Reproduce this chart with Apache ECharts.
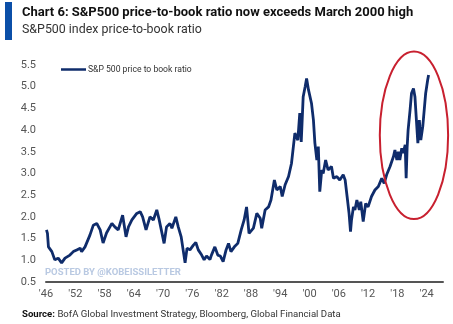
<!DOCTYPE html>
<html>
<head>
<meta charset="utf-8">
<script src="https://cdn.jsdelivr.net/npm/echarts@6/dist/echarts.min.js"></script>
<style>html,body{margin:0;padding:0;background:#fff;}#c{width:453px;height:324px;}</style>
</head>
<body>
<div id="c"></div>
<script>
const FONT = "Roboto, 'Liberation Sans', sans-serif";
const startYear = 1946;
const tickYears = [1946, 1952, 1958, 1964, 1970, 1976, 1982, 1988, 1994, 2000, 2006, 2012, 2018, 2024];
const years = [
  1946.1, 1946.3, 1946.5, 1947.2, 1947.8, 1948.5, 1949.2, 1949.9, 1950.9, 1951.6,
  1952.3, 1953.0, 1953.3, 1954.0, 1955.0, 1955.7, 1956.4, 1957.1, 1957.7, 1958.4,
  1959.5, 1960.1, 1960.8, 1961.7, 1962.4, 1962.9, 1963.6, 1964.6, 1965.3, 1965.8,
  1966.5, 1967.3, 1968.0, 1968.7, 1969.2, 1969.7, 1970.2, 1970.7, 1971.4, 1971.8,
  1972.6, 1973.1, 1973.7, 1974.1, 1974.5, 1974.9, 1975.5, 1976.2, 1976.7, 1977.2,
  1977.9, 1978.4, 1978.9, 1979.6, 1979.9, 1980.6, 1981.2, 1981.7, 1982.3, 1982.9,
  1983.4, 1983.9, 1984.6, 1985.3, 1986.0, 1986.6, 1987.1, 1987.6, 1988.5, 1989.2,
  1989.9, 1990.2, 1990.9, 1991.6, 1992.1, 1992.8, 1993.3, 1994.0, 1994.4, 1995.0,
  1995.7, 1996.3, 1997.0, 1997.6, 1998.0, 1998.3, 1998.7, 1999.1, 1999.4, 1999.8,
  2000.1, 2000.4, 2000.8, 2001.1, 2001.5, 2001.8, 2002.1, 2002.5, 2002.8, 2003.3,
  2003.8, 2004.5, 2004.9, 2005.6, 2006.2, 2006.9, 2007.3, 2007.7, 2008.1, 2008.4,
  2008.6, 2009.0, 2009.3, 2009.7, 2010.2, 2010.5, 2011.0, 2011.5, 2012.0, 2012.7,
  2013.4, 2014.1, 2014.8, 2015.3, 2015.8, 2016.5, 2017.2, 2017.5, 2017.9, 2018.2,
  2018.5, 2018.9, 2019.2, 2019.6, 2019.8, 2020.0, 2020.2, 2020.6, 2020.9, 2021.3,
  2021.6, 2021.9, 2022.2, 2022.5, 2022.8, 2023.2, 2023.5, 2023.8, 2024.2, 2024.4
];
const ptb = [
  1.70, 1.62, 1.31, 1.20, 1.01, 1.05, 0.94, 1.05, 1.12, 1.20,
  1.24, 1.28, 1.20, 1.31, 1.58, 1.81, 1.85, 1.70, 1.40, 1.63,
  1.85, 1.77, 1.70, 2.04, 1.54, 1.77, 1.93, 2.08, 2.12, 2.00,
  1.70, 2.00, 1.93, 2.16, 1.93, 1.66, 1.39, 1.77, 1.85, 1.74,
  2.00, 1.77, 1.54, 1.24, 0.94, 1.28, 1.24, 1.35, 1.41, 1.24,
  1.12, 1.01, 1.10, 1.02, 1.12, 1.31, 1.12, 1.10, 0.97, 1.24,
  1.39, 1.20, 1.31, 1.39, 1.70, 1.93, 2.23, 1.62, 1.74, 2.08,
  1.97, 1.74, 2.16, 2.23, 2.39, 2.85, 2.62, 2.70, 2.47, 2.74,
  2.93, 3.23, 3.93, 3.77, 4.39, 3.73, 4.77, 5.00, 5.19, 4.92,
  4.96, 4.62, 4.23, 3.70, 3.31, 3.62, 2.58, 3.08, 3.00, 3.31,
  3.08, 3.16, 2.89, 2.93, 2.85, 2.97, 2.85, 2.47, 2.08, 1.66,
  1.93, 2.23, 2.16, 2.39, 2.16, 2.35, 1.89, 2.31, 2.23, 2.47,
  2.62, 2.70, 2.89, 2.77, 2.97, 3.16, 3.39, 3.54, 3.31, 3.50,
  3.31, 3.58, 3.47, 3.66, 2.89, 3.60, 4.00, 4.46, 4.85, 4.96,
  4.77, 4.23, 3.70, 4.23, 3.77, 4.08, 4.46, 4.85, 5.15, 5.27
];
const yTicks = [0.5, 1.0, 1.5, 2.0, 2.5, 3.0, 3.5, 4.0, 4.5, 5.0, 5.5];
// annotation ellipse in data units
const highlight = { year: 2021.4, value: 3.88, halfYears: 7.0, halfValue: 1.93 };

const chart = echarts.init(document.getElementById('c'), null, { renderer: 'canvas' });
const tickOffsets = tickYears.map(y => y - startYear);
const seriesData = years.map((y, i) => [y - startYear, ptb[i]]);

chart.setOption({
  backgroundColor: '#fff',
  animation: false,
  grid: { left: 46, right: 10, top: 65, bottom: 42 },
  legend: {
    left: 56, top: 60, icon: 'rect', itemWidth: 25, itemHeight: 2.5, itemGap: 3,
    textStyle: { fontFamily: FONT, fontSize: 8.6, color: '#333', padding: [0, 0, 0, -3] },
    data: ['S&P 500 price to book ratio']
  },
  xAxis: {
    type: 'value', min: 0, max: 81.35, interval: 6,
    splitLine: { show: false },
    axisTick: { show: false },
    axisLine: { show: true, lineStyle: { color: '#555', width: 2 } },
    axisLabel: {
      margin: 7, color: '#555', fontFamily: FONT, fontSize: 11,
      showMaxLabel: false,
      formatter: v => tickOffsets.indexOf(Math.round(v)) >= 0 && Math.abs(v - Math.round(v)) < 1e-6
        ? "'" + String(tickYears[tickOffsets.indexOf(Math.round(v))] % 100).padStart(2, '0') : ''
    }
  },
  yAxis: {
    type: 'value', min: yTicks[0], max: yTicks[yTicks.length - 1], interval: 0.5,
    splitLine: { show: false },
    axisTick: { show: false },
    axisLine: { show: false },
    axisLabel: { margin: 10, color: '#555', fontFamily: FONT, fontSize: 11, formatter: v => v.toFixed(1) }
  },
  series: [{
    name: 'S&P 500 price to book ratio',
    type: 'line', symbol: 'none', data: seriesData,
    lineStyle: { color: '#0f2c6b', width: 2.8 },
    itemStyle: { color: '#0f2c6b' }
  }],
  graphic: [
    { id: 'bar', type: 'rect', shape: { x: 5, y: 2, width: 7, height: 38 }, style: { fill: '#0b4fa8' } },
    { id: 'title', type: 'text', left: 22, top: 6, style: { text: 'Chart 6: S&P500 price-to-book ratio now exceeds March 2000 high', fontFamily: FONT, fontWeight: 'bold', fontSize: 13, fill: '#111' } },
    { id: 'sub', type: 'text', left: 22, top: 24, style: { text: 'S&P500 index price-to-book ratio', fontFamily: FONT, fontSize: 12.4, fill: '#333' } },
    { id: 'wm', type: 'text', left: 45, top: 268, style: { text: 'POSTED BY @KOBEISSILETTER', fontFamily: FONT, fontWeight: 'bold', fontSize: 9.5, fill: '#b9c9e2' } },
    { id: 'src', type: 'text', left: 22, top: 310, style: {
      text: '{b|Source:} BofA Global Investment Strategy, Bloomberg, Global Financial Data',
      fontFamily: FONT, fontSize: 9.6, fill: '#333',
      rich: { b: { fontFamily: FONT, fontWeight: 'bold', fontSize: 9.6, fill: '#111' } }
    } }
  ]
});

const c = chart.convertToPixel({ gridIndex: 0 }, [highlight.year - startYear, highlight.value]);
const e = chart.convertToPixel({ gridIndex: 0 }, [highlight.year - startYear + highlight.halfYears, highlight.value + highlight.halfValue]);
chart.setOption({
  graphic: [{
    id: 'ring', type: 'ellipse', z: 10,
    shape: { cx: c[0], cy: c[1], rx: Math.abs(e[0] - c[0]), ry: Math.abs(c[1] - e[1]) },
    style: { fill: 'none', stroke: '#c8202f', lineWidth: 2 }
  }]
});
</script>
</body>
</html>
